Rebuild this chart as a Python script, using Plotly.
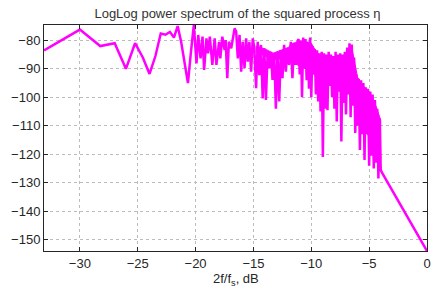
import plotly.graph_objects as go

# log-frequency axis values (2f/fs, dB) and power (dB)
freq_db = [
    -33.1, -30.0, -28.24, -26.99, -26.02, -25.23, -24.56, -23.98, -23.47, -23.01,
    -22.60, -22.22, -21.87, -21.55, -21.25, -20.97, -20.66, -20.40, -20.15, -19.92,
    -19.77, -19.57, -19.40, -19.26, -19.06, -18.92, -18.77, -18.55, -18.35, -18.20,
    -17.97, -17.86, -17.69, -17.49, -17.40, -17.26, -17.12, -16.92, -16.77, -16.63,
    -16.49, -16.35, -16.20, -16.06, -15.92, -15.77, -15.63, -15.49, -15.35, -15.20,
    -15.06, -14.92, -14.77, -14.63, -14.49, -14.35, -14.20, -14.06, -13.92, -13.77,
    -13.63, -13.49, -13.35, -13.20, -13.06, -12.92, -12.77, -12.63, -12.49, -12.35,
    -12.20, -12.06, -11.92, -11.77, -11.63, -11.49, -11.35, -11.20,
    -11.10, -11.00, -10.90, -10.80, -10.70, -10.60, -10.50, -10.40, -10.30, -10.20,
    -10.10, -10.00, -9.90, -9.80, -9.70, -9.60, -9.50, -9.40, -9.30, -9.20,
    -9.10, -9.00, -8.90, -8.80, -8.70, -8.60, -8.50, -8.40, -8.30, -8.20,
    -8.10, -8.00, -7.90, -7.80, -7.70, -7.60, -7.50, -7.40, -7.30, -7.20,
    -7.10, -7.00, -6.90, -6.80, -6.70, -6.60, -6.50, -6.40, -6.30, -6.20,
    -6.10, -6.00, -5.90, -5.80, -5.70, -5.60, -5.50, -5.40, -5.30, -5.20,
    -5.10, -5.00, -4.90, -4.80, -4.70, -4.60, -4.50, -4.40, -4.30, -4.20,
    -4.10, -4.00,
    -3.90, -3.50, -3.00, -2.50, -2.00, -1.50, -1.00, -0.50, 0.0,
]

power_db = [
    -83.5, -76.2, -82.0, -81.0, -90.0, -81.0, -86.0, -91.8, -85.5, -77.6,
    -78.0, -77.0, -79.0, -75.0, -80.5, -88.0, -95.0, -84.0, -74.6, -88.1,
    -78.1, -86.3, -78.7, -90.4, -79.3, -84.6, -78.7, -88.6, -79.3, -88.6,
    -80.5, -86.3, -78.7, -83.4, -79.9, -93.3, -80.5, -82.8, -79.3, -75.8,
    -76.9, -86.3, -78.1, -91.0, -80.5, -89.8, -79.3, -87.5, -80.5, -91.0,
    -79.3, -82.8, -96.8, -80.5, -92.2, -81.6, -100.4, -82.8, -100.9, -84.0,
    -89.8, -84.0, -93.9, -85.1, -104.0, -84.6, -101.5, -83.4, -93.3, -81.6,
    -91.0, -82.8, -88.6, -80.5, -93.3, -81.6, -88.6, -80.5,
    -79.5, -92.0, -80.0, -100.0, -79.0, -88.0, -79.5, -94.0, -80.5, -97.0,
    -79.0, -100.0, -82.0, -92.0, -83.0, -99.0, -83.5, -101.5, -84.5, -105.0,
    -84.0, -121.0, -84.5, -104.0, -85.0, -104.5, -84.0, -96.0, -85.0, -100.0,
    -85.5, -104.0, -84.0, -108.5, -85.0, -98.0, -84.5, -115.5, -85.0, -102.0,
    -84.0, -106.0, -82.5, -99.0, -81.0, -107.0, -81.5, -103.0, -86.0, -112.5,
    -92.0, -110.0, -93.5, -118.5, -94.0, -113.0, -95.0, -122.0, -96.5, -113.0,
    -97.0, -124.0, -98.0, -120.5, -99.0, -125.0, -101.0, -123.0, -104.0, -128.5,
    -107.5, -125.5,
    -126.4, -129.2, -132.7, -136.3, -139.8, -143.4, -146.9, -150.5, -154.0,
]

# dense band where the spectrum oscillates too fast to resolve (solid area)
band_x = [-14.8, -14.0, -13.3, -12.6, -12.0, -11.6, -11.0, -10.5, -10.0, -9.5, -9.0,
          -8.5, -8.0, -7.5, -7.0, -6.5, -6.3, -6.0, -5.5, -5.0, -4.5, -4.2, -4.0]
band_top = [-82.0, -83.0, -84.5, -83.5, -82.5, -81.0, -80.5, -80.5, -81.0, -84.5, -85.5,
            -85.5, -86.0, -85.5, -85.0, -82.5, -87.0, -93.0, -96.0, -98.0, -102.0, -105.5, -108.0]
band_bottom = [-84.0, -85.5, -87.0, -86.5, -87.0, -88.0, -89.0, -90.0, -91.0, -93.0, -95.0,
               -95.0, -96.0, -97.0, -96.0, -97.0, -100.0, -106.0, -110.0, -114.0, -117.0, -120.0, -122.0]

x_ticks = [-30, -25, -20, -15, -10, -5, 0]
y_ticks = [-150, -140, -130, -120, -110, -100, -90, -80]

FONT = "Liberation Sans, Arial, sans-serif"
TXT = "#262626"
MAG = "#ff00ff"

fig = go.Figure()
fig.add_trace(
    go.Scatter(
        x=band_x + band_x[::-1], y=band_top + band_bottom[::-1],
        mode="lines", fill="toself", fillcolor=MAG,
        line=dict(color=MAG, width=1), hoverinfo="skip",
    )
)
fig.add_trace(
    go.Scatter(
        x=freq_db, y=power_db, mode="lines",
        line=dict(color=MAG, width=2.5), hoverinfo="skip",
    )
)

axis_common = dict(
    showline=True, linecolor=TXT, linewidth=1, mirror="ticks",
    ticks="inside", ticklen=4, tickcolor=TXT,
    showgrid=True, gridcolor="#bcbcbc", griddash="dot", gridwidth=1,
    zeroline=False,
    tickfont=dict(family=FONT, size=13, color=TXT),
)

fig.update_layout(
    width=435, height=292,
    margin=dict(l=44, r=4, t=25, b=41),
    paper_bgcolor="white", plot_bgcolor="white",
    showlegend=False,
    title=dict(
        text="LogLog power spectrum of the squared process η",
        x=0.546, xref="container", xanchor="center",
        y=1 - 13 / 292, yref="container", yanchor="middle",
        font=dict(family=FONT, size=13, color="#333333"),
    ),
    xaxis=dict(range=[-33.1, 0], tickvals=x_ticks, **axis_common),
    yaxis=dict(range=[-154, -74.6], tickvals=y_ticks, **axis_common),
    annotations=[
        dict(
            text="2f/f<sub>s</sub>, dB", xref="paper", yref="paper",
            x=0.5, y=-0.128, xanchor="center", yanchor="middle",
            showarrow=False, font=dict(family=FONT, size=13, color=TXT),
        )
    ],
)

fig.write_html(
    "out.html",
    config={"displayModeBar": False},
    post_script="document.body.style.margin='0px';document.body.style.padding='0px';",
)
